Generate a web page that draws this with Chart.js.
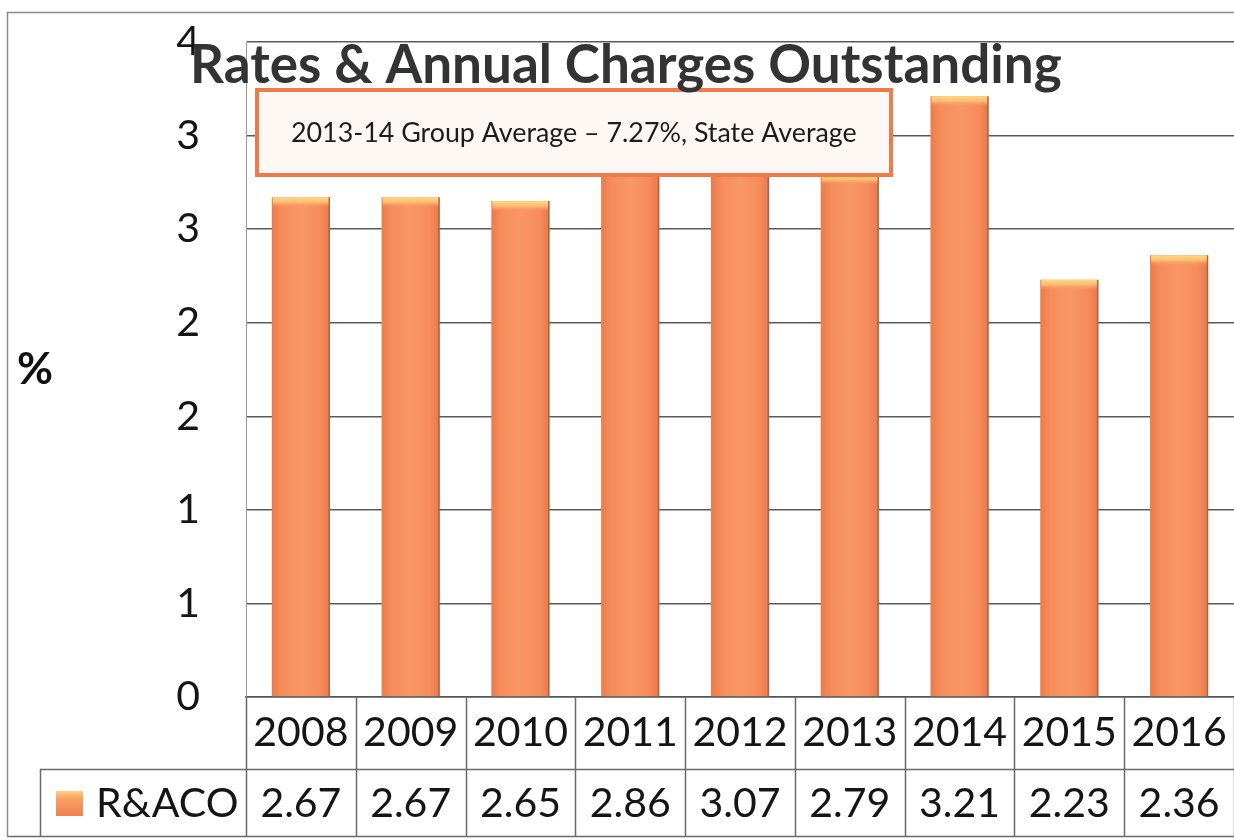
<!DOCTYPE html>
<html>
<head>
<meta charset="utf-8">
<script src="https://cdn.jsdelivr.net/npm/chart.js@4.4.1/dist/chart.umd.min.js"></script>
<style>
html,body{margin:0;padding:0;background:#fff;}
canvas{display:block;}
</style>
</head>
<body>
<canvas id="c" width="1234" height="840"></canvas>
<script>
// ---- data ----
const years = ['2008','2009','2010','2011','2012','2013','2014','2015','2016'];
const racoValues = [2.67, 2.67, 2.65, 2.86, 3.07, 2.79, 3.21, 2.23, 2.36];
const seriesLabel = 'R&ACO';
const yTickLabels = ['0','1','1','2','2','3','3','4'];
const yMin = 0, yMax = 3.5, yStep = 0.5;
const chartTitle = 'Rates & Annual Charges Outstanding';
const noteText = '2013-14 Group Average \u2013 7.27%, State Average';
const yAxisTitle = '%';

// ---- styling ----
const FONT = 'Lato, "Open Sans", "DejaVu Sans", sans-serif';
const BAR_PCT = 0.53;
const TEXT = '#151515';

Chart.defaults.font.family = FONT;

function barFill(context) {
  const chart = context.chart;
  const xs = chart.scales && chart.scales.x;
  if (context.dataIndex === undefined || !xs || !chart.chartArea) return '#F68E5C';
  const cx = xs.getPixelForValue(context.dataIndex);
  const w = (xs.width / years.length) * BAR_PCT;
  const g = chart.ctx.createLinearGradient(cx - w / 2, 0, cx + w / 2, 0);
  g.addColorStop(0, '#EC7C4B');
  g.addColorStop(0.18, '#F68C5B');
  g.addColorStop(0.5, '#F99765');
  g.addColorStop(0.82, '#F68C5B');
  g.addColorStop(1, '#E97849');
  return g;
}

function drawKey(c, x, y, w, h) {
  const g = c.createLinearGradient(0, y, 0, y + h);
  g.addColorStop(0, '#FFD27E');
  g.addColorStop(0.3, '#F9A064');
  g.addColorStop(1, '#EE8150');
  c.fillStyle = g;
  c.fillRect(x, y, w, h);
}

function drawTable(chart) {
  const c = chart.ctx, xs = chart.scales.x, area = chart.chartArea;
  const top = area.bottom;
  const bottom = xs.bottom;
  const rowSplit = top + 72;
  const cw = xs.width / years.length;
  c.save();
  c.strokeStyle = '#6a6a6a';
  c.lineWidth = 1.5;
  c.beginPath();
  for (let i = 0; i <= years.length; i++) {
    const x = Math.round(area.left + i * cw) + 0.5;
    c.moveTo(x, top); c.lineTo(x, bottom);
  }
  c.moveTo(40, rowSplit + 0.5); c.lineTo(area.right, rowSplit + 0.5);
  c.moveTo(40.5, rowSplit); c.lineTo(40.5, bottom);
  c.moveTo(7, bottom - 0.5); c.lineTo(area.right, bottom - 0.5);
  c.stroke();

  const midY = (rowSplit + bottom) / 2 + 1;
  c.fillStyle = TEXT;
  c.font = `41px ${FONT}`;
  c.textAlign = 'center';
  c.textBaseline = 'middle';
  racoValues.forEach((v, i) => c.fillText(v.toFixed(2), xs.getPixelForValue(i), midY));
  c.textAlign = 'left';
  c.fillText(seriesLabel, 96, midY);
  drawKey(c, 56, midY - 13, 27, 25);
  c.restore();
}

function drawNote(chart) {
  const c = chart.ctx;
  c.save();
  c.fillStyle = '#FDF8F4';
  c.fillRect(257, 90, 634, 85);
  c.strokeStyle = '#EE7B49';
  c.lineWidth = 4;
  c.strokeRect(257, 90, 634, 85);
  let size = 24;
  c.font = `${size}px ${FONT}`;
  size = size * 566 / c.measureText(noteText).width;
  c.font = `${size}px ${FONT}`;
  c.fillStyle = '#1c1c1c';
  c.textAlign = 'left';
  c.textBaseline = 'alphabetic';
  c.fillText(noteText, 291, 142);
  c.restore();
}

function drawTitle(chart) {
  const c = chart.ctx;
  c.save();
  let size = 46;
  c.font = `bold ${size}px ${FONT}`;
  size = size * 872 / c.measureText(chartTitle).width;
  c.font = `bold ${size}px ${FONT}`;
  c.fillStyle = '#333333';
  c.textAlign = 'left';
  c.textBaseline = 'alphabetic';
  c.fillText(chartTitle, 190, 83);
  c.font = `bold 44px ${FONT}`;
  c.fillStyle = '#111';
  c.textAlign = 'center';
  c.textBaseline = 'middle';
  c.fillText(yAxisTitle, 35, 370);
  c.restore();
}

function drawFrame(chart) {
  const c = chart.ctx;
  c.save();
  c.strokeStyle = '#8a8a8a';
  c.lineWidth = 1.5;
  c.beginPath();
  c.moveTo(7.5, 12); c.lineTo(7.5, 837);
  c.moveTo(7, 12.5); c.lineTo(chart.width, 12.5);
  c.stroke();
  c.restore();
}

const decor = {
  id: 'decor',
  beforeDraw(chart) {
    const c = chart.ctx;
    c.save(); c.fillStyle = '#fff'; c.fillRect(0, 0, chart.width, chart.height); c.restore();
  },
  afterDatasetsDraw(chart) {
    const c = chart.ctx;
    const meta = chart.getDatasetMeta(0);
    c.save();
    meta.data.forEach(el => {
      const p = el.getProps(['x', 'y', 'width', 'base'], true);
      const l = p.x - p.width / 2;
      c.fillStyle = 'rgba(105,80,65,0.5)';
      c.fillRect(l + p.width - 1.5, p.y, 1.5, p.base - p.y);
      const g = c.createLinearGradient(0, p.y, 0, p.y + 10);
      g.addColorStop(0, '#FFD886');
      g.addColorStop(0.5, '#FBBD6F');
      g.addColorStop(1, 'rgba(248,150,98,0)');
      c.fillStyle = g;
      c.fillRect(l + 1, p.y, p.width - 2.5, 10);
    });
    c.restore();
    drawTable(chart);
    drawNote(chart);
  },
  afterDraw(chart) {
    drawTitle(chart);
    drawFrame(chart);
  }
};

new Chart(document.getElementById('c'), {
  type: 'bar',
  data: {
    labels: years,
    datasets: [{
      label: seriesLabel,
      data: racoValues,
      backgroundColor: barFill,
      borderWidth: 0,
      barPercentage: BAR_PCT,
      categoryPercentage: 1.0
    }]
  },
  options: {
    responsive: false,
    animation: false,
    events: [],
    layout: { padding: { top: 42, right: 0, bottom: 3, left: 0 } },
    plugins: {
      legend: { display: false },
      title: { display: false },
      tooltip: { enabled: false }
    },
    scales: {
      x: {
        offset: true,
        grid: { display: false, drawTicks: false },
        border: { display: true, color: '#555', width: 1.5 },
        ticks: {
          autoSkip: false, maxRotation: 0, minRotation: 0,
          padding: 11,
          color: TEXT,
          font: { size: 41, family: FONT }
        },
        afterFit(scale) { scale.height = 140; scale.paddingLeft = 0; scale.paddingRight = 0; }
      },
      y: {
        min: yMin, max: yMax,
        grid: { color: '#5a5a5a', lineWidth: 1.5, drawTicks: false },
        border: { display: true, color: '#9a9a9a', width: 1 },
        ticks: {
          stepSize: yStep,
          autoSkip: false,
          padding: 46,
          color: TEXT,
          font: { size: 41, family: FONT },
          callback: (v, i) => yTickLabels[i]
        },
        afterFit(scale) { scale.width = 246; scale.paddingTop = 0; scale.paddingBottom = 0; }
      }
    }
  },
  plugins: [decor]
});
</script>
</body>
</html>
